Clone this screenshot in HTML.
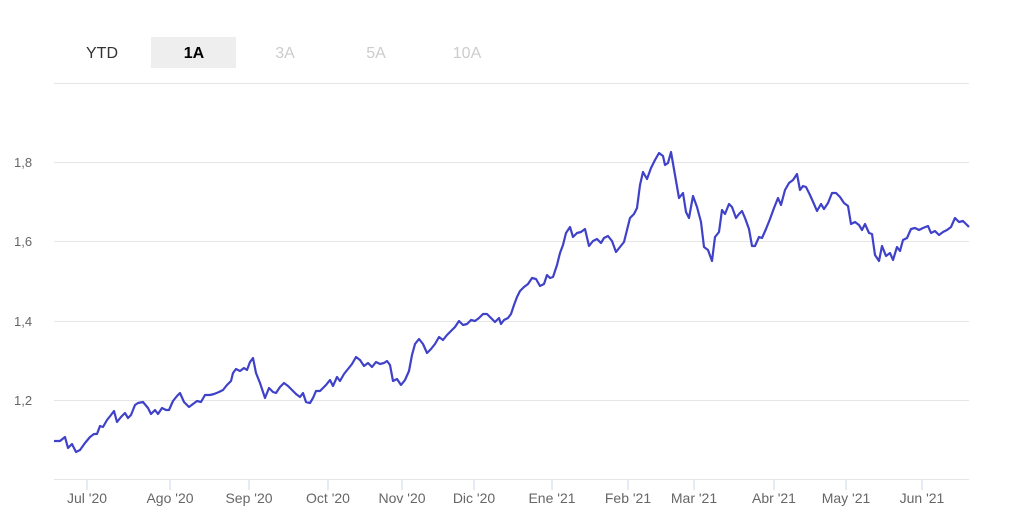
<!DOCTYPE html>
<html><head><meta charset="utf-8"><style>
body{margin:0;background:#fff;width:1022px;height:525px;overflow:hidden;font-family:"Liberation Sans",sans-serif}
</style></head><body>
<svg width="1022" height="525" xmlns="http://www.w3.org/2000/svg" font-family="Liberation Sans, sans-serif">
<rect x="151" y="37" width="85" height="31" fill="#eeeeee"/>
<g font-size="16" text-anchor="middle">
<text x="102" y="58" fill="#333">YTD</text>
<text x="194" y="58" fill="#000" font-weight="bold">1A</text>
<text x="285" y="58" fill="#cccccc">3A</text>
<text x="376" y="58" fill="#cccccc">5A</text>
<text x="467" y="58" fill="#cccccc">10A</text>
</g>
<g stroke="#e6e6e6" stroke-width="1">
<line x1="54" x2="969" y1="83.5" y2="83.5"/>
<line x1="54" x2="969" y1="162.5" y2="162.5"/>
<line x1="54" x2="969" y1="241.5" y2="241.5"/>
<line x1="54" x2="969" y1="321.5" y2="321.5"/>
<line x1="54" x2="969" y1="400.5" y2="400.5"/>
<line x1="54" x2="969" y1="479.5" y2="479.5"/>
</g>
<g stroke="#ccd6eb" stroke-width="1">
<line x1="87" x2="87" y1="480" y2="490"/><line x1="170" x2="170" y1="480" y2="490"/>
<line x1="249" x2="249" y1="480" y2="490"/><line x1="328" x2="328" y1="480" y2="490"/>
<line x1="402" x2="402" y1="480" y2="490"/><line x1="474" x2="474" y1="480" y2="490"/>
<line x1="552" x2="552" y1="480" y2="490"/><line x1="628" x2="628" y1="480" y2="490"/>
<line x1="694" x2="694" y1="480" y2="490"/><line x1="774" x2="774" y1="480" y2="490"/>
<line x1="846" x2="846" y1="480" y2="490"/><line x1="922" x2="922" y1="480" y2="490"/>
</g>
<g font-size="13" fill="#666">
<text x="14" y="167">1,8</text><text x="14" y="246">1,6</text>
<text x="14" y="326">1,4</text><text x="14" y="405">1,2</text>
</g>
<g font-size="14" fill="#666" text-anchor="middle">
<text x="87" y="503">Jul '20</text><text x="170" y="503">Ago '20</text>
<text x="249" y="503">Sep '20</text><text x="328" y="503">Oct '20</text>
<text x="402" y="503">Nov '20</text><text x="474" y="503">Dic '20</text>
<text x="552" y="503">Ene '21</text><text x="628" y="503">Feb '21</text>
<text x="694" y="503">Mar '21</text><text x="774" y="503">Abr '21</text>
<text x="846" y="503">May '21</text><text x="922" y="503">Jun '21</text>
</g>
<polyline fill="none" stroke="#3f42c8" stroke-width="2.2" stroke-linejoin="round" points="54,441 60,441 65,437 68,448 72,444 76,452 80,450 85,443 90,437 94,434 97,434 100,426 103,427 107,420 111,415 114,411 117,422 121,417 125,413 128,418 131,415 135,405 138,403 143,402 148,408 151,414 155,410 158,414 162,408 166,410 169,410 173,401 177,396 180,393 184,402 189,407 193,404 197,401 201,402 205,395 210,395 214,394 219,392 223,390 227,385 231,381 233,373 236,369 240,371 244,368 247,370 250,362 253,358 256,373 260,383 265,398 269,388 273,392 276,393 280,387 284,383 288,386 292,390 296,394 300,397 303,393 306,402 310,403 313,398 316,391 320,391 323,388 326,385 330,380 333,386 337,377 340,381 344,374 348,369 352,364 356,357 360,360 364,366 368,363 372,367 376,362 380,364 384,363 387,361 390,365 393,381 397,379 401,385 405,380 409,371 412,355 415,344 419,339 423,344 427,353 431,349 435,344 439,337 443,340 447,335 451,331 455,327 459,321 463,325 467,324 471,320 475,321 479,318 483,314 487,314 491,318 495,322 499,318 501,324 504,320 508,318 511,314 514,305 517,297 520,291 524,287 528,284 532,278 536,279 540,286 544,284 547,275 550,278 553,277 557,265 560,253 563,245 566,233 570,227 573,237 577,233 581,232 585,229 589,246 593,241 597,239 601,243 604,238 608,236 612,241 616,252 620,247 624,242 627,230 630,218 634,214 637,208 640,185 643,172 647,179 651,168 655,160 659,153 663,156 665,165 668,163 671,152 675,175 679,198 683,193 686,212 689,218 693,196 697,207 701,222 704,247 708,250 712,261 715,237 719,232 722,210 725,214 729,204 732,207 736,218 739,214 742,211 745,218 749,229 752,246 755,246 759,237 762,238 766,229 770,219 774,208 778,198 781,205 785,190 789,183 793,180 797,174 800,190 803,186 806,187 810,195 814,204 817,211 821,204 824,209 828,203 832,193 836,193 840,197 844,203 848,206 851,224 855,222 859,225 862,230 865,224 869,233 872,234 875,255 879,261 882,246 886,256 890,253 893,260 897,247 900,251 903,240 907,238 911,229 915,228 919,230 923,228 928,226 931,233 935,231 939,235 943,232 947,230 951,227 955,218 959,222 963,221 966,224 969,227"/>
</svg>
</body></html>
